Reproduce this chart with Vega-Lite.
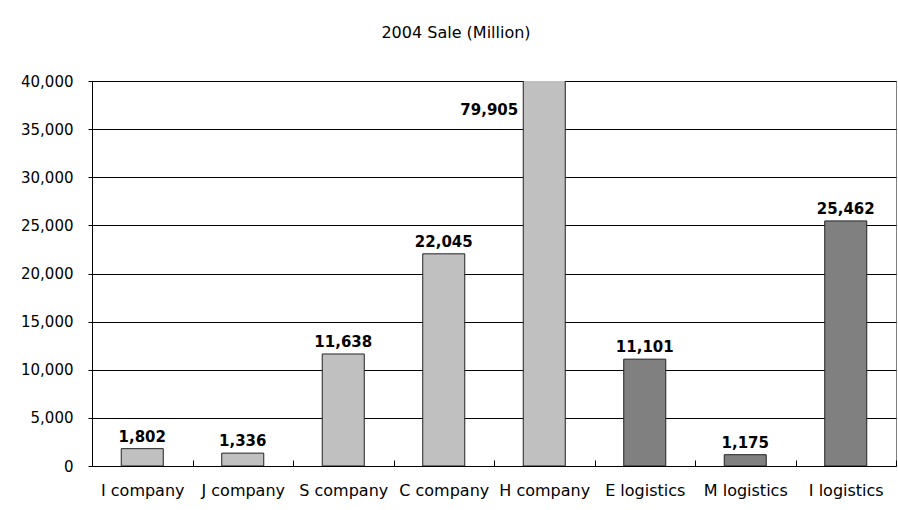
{
  "$schema": "https://vega.github.io/schema/vega-lite/v6.json",
  "autosize": "none",
  "width": 804,
  "height": 385,
  "padding": {"left": 92, "top": 81, "right": 2, "bottom": 44},
  "background": "white",
  "title": {
    "text": "2004 Sale (Million)",
    "anchor": "middle",
    "dx": -38,
    "offset": 20,
    "baseline": "alphabetic",
    "font": "DejaVu Sans",
    "fontSize": 16,
    "fontWeight": "normal",
    "color": "#000000"
  },
  "data": {
    "values": [
      {"name": "I company", "sale": 1802, "type": "company"},
      {"name": "J company", "sale": 1336, "type": "company"},
      {"name": "S company", "sale": 11638, "type": "company"},
      {"name": "C company", "sale": 22045, "type": "company"},
      {"name": "H company", "sale": 79905, "type": "company"},
      {"name": "E logistics", "sale": 11101, "type": "logistics"},
      {"name": "M logistics", "sale": 1175, "type": "logistics"},
      {"name": "I logistics", "sale": 25462, "type": "logistics"}
    ]
  },
  "encoding": {
    "x": {
      "field": "name",
      "type": "nominal",
      "sort": null,
      "title": null,
      "scale": {"paddingInner": 0, "paddingOuter": 0},
      "axis": {
        "labelAngle": 0,
        "labelFont": "DejaVu Sans",
        "labelFontSize": 16,
        "labelColor": "#000000",
        "labelPadding": 16,
        "domain": false,
        "offset": -6,
        "ticks": true,
        "tickColor": "#000000",
        "tickWidth": 1,
        "tickBand": "extent",
        "tickSize": 6,
        "grid": false,
        "zindex": 1
      }
    }
  },
  "layer": [
    {
      "mark": {"type": "bar", "clip": true, "width": {"band": 0.418}, "stroke": "#222222", "strokeWidth": 1},
      "encoding": {
        "y": {
          "field": "sale",
          "type": "quantitative",
          "title": null,
          "scale": {"domain": [0, 40000], "nice": false},
          "axis": {
            "values": [0, 5000, 10000, 15000, 20000, 25000, 30000, 35000, 40000],
            "format": ",d",
            "labelFont": "DejaVu Sans",
            "labelFontSize": 15,
            "labelColor": "#000000",
            "labelPadding": 15,
            "tickSize": 4,
            "tickColor": "#000000",
            "domainColor": "#000000",
            "gridColor": "#000000",
            "gridOpacity": 1,
            "gridWidth": 1
          }
        },
        "color": {
          "field": "type",
          "type": "nominal",
          "scale": {"domain": ["company", "logistics"], "range": ["#C0C0C0", "#808080"]},
          "legend": null
        }
      }
    },
    {
      "transform": [{"filter": "datum.sale <= 40000"}],
      "mark": {"type": "text", "baseline": "alphabetic", "dy": -7, "font": "DejaVu Sans", "fontSize": 15, "fontWeight": "bold", "color": "#000000"},
      "encoding": {
        "y": {"field": "sale", "type": "quantitative"},
        "text": {"field": "sale", "type": "quantitative", "format": ",d"}
      }
    },
    {
      "transform": [{"filter": "datum.sale > 40000"}],
      "mark": {"type": "text", "baseline": "alphabetic", "align": "right", "dx": -26, "font": "DejaVu Sans", "fontSize": 15, "fontWeight": "bold", "color": "#000000"},
      "encoding": {
        "y": {"datum": 36500},
        "text": {"field": "sale", "type": "quantitative", "format": ",d"}
      }
    }
  ],
  "config": {
    "view": {"stroke": "#808080", "strokeWidth": 1}
  }
}
